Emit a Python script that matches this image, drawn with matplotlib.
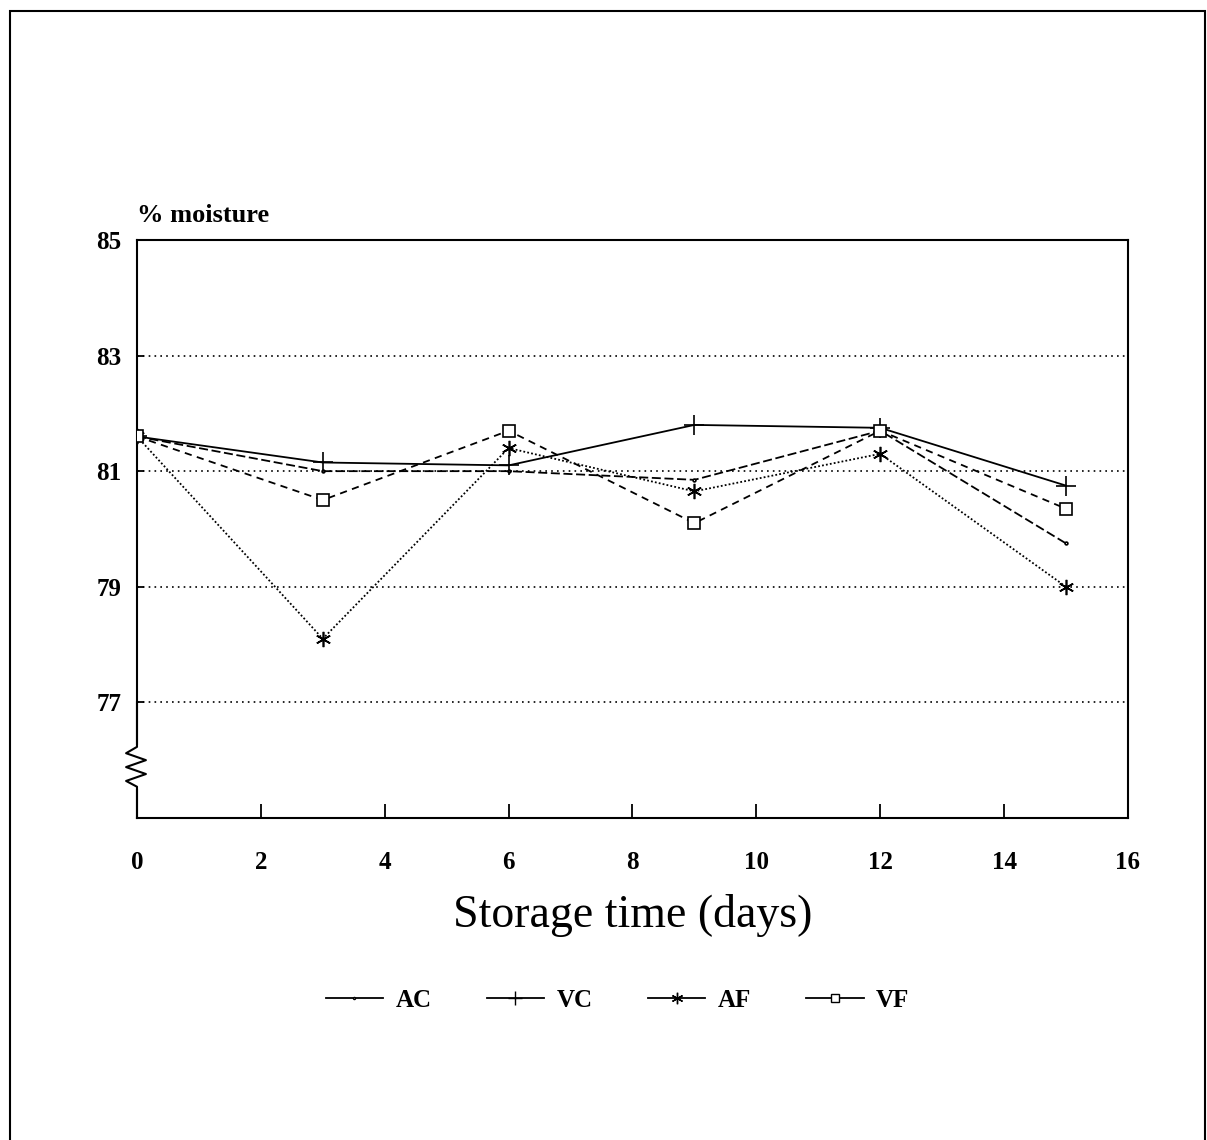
import matplotlib
matplotlib.use('Agg')
import matplotlib.pyplot as plt
from matplotlib.patches import Rectangle
from matplotlib.lines import Line2D

# dados (umidade % ao longo do armazenamento)
dias = [0, 3, 6, 9, 12, 15]
ac = [81.6, 81.0, 81.0, 80.85, 81.7, 79.75]
vc = [81.6, 81.15, 81.1, 81.8, 81.75, 80.75]
af = [81.6, 78.1, 81.4, 80.65, 81.3, 79.0]
vf = [81.6, 80.5, 81.7, 80.1, 81.7, 80.35]

xticks = [0, 2, 4, 6, 8, 10, 12, 14, 16]
yticks = [77, 79, 81, 83, 85]
grade = [77, 79, 81, 83]

fonte = 'Liberation Serif'

fig = plt.figure(figsize=(12.07, 11.4), dpi=100)
fig.patches.append(Rectangle((0.008, -0.01), 0.99, 1.0, transform=fig.transFigure,
                             fill=False, edgecolor='black', linewidth=1.5))

ax = fig.add_axes([0.1135, 0.2825, 0.821, 0.507])

for g in grade:
    ax.axhline(g, color='black', linestyle=(0, (1, 2.5)), linewidth=1.2, zorder=1)

# estilo de cada serie: (valores, nome, linha, marcador, tamanho)
series = [
    (ac, 'AC', (0, (5, 2)), '.', 4),
    (vc, 'VC', '-', '+', 14),
    (af, 'AF', (0, (1, 1.2)), (6, 2, 0), 11),
    (vf, 'VF', (0, (4, 3)), 's', 8),
]

alcas = []
for valores, nome, estilo, marc, tam in series:
    ax.plot(dias, valores, color='black', linestyle=estilo, linewidth=1.3,
            marker=marc, markersize=tam, markerfacecolor='white', markeredgecolor='black',
            markeredgewidth=1.2, zorder=3)
    alcas.append(Line2D([], [], color='black', linestyle='-', linewidth=1.3,
                        marker=marc, markersize=tam * 0.75, markerfacecolor='white',
                        markeredgecolor='black', markeredgewidth=1.0, label=nome))

ax.set_xlim(0, 16)
ax.set_ylim(75, 85)
ax.set_xticks(xticks)
ax.set_yticks(yticks)
ax.set_xticklabels([str(t) for t in xticks], fontfamily=fonte, fontweight='bold', fontsize=18)
ax.set_yticklabels([str(t) for t in yticks], fontfamily=fonte, fontweight='bold', fontsize=18)
ax.tick_params(axis='x', direction='in', length=10, width=1.3, pad=24, top=False)
ax.tick_params(axis='y', direction='in', length=5, width=1.3, pad=11, right=False)
for lado in ax.spines.values():
    lado.set_linewidth(1.5)

# quebra do eixo y (zigue-zague)
zx = [0.0, 0.0, -0.011, 0.009, -0.011, 0.009, -0.011, 0.0, 0.0]
zy = [0.2, 0.123, 0.112, 0.1, 0.088, 0.076, 0.064, 0.054, 0.0]
ax.plot([0.0, 0.0], [0.054, 0.123], color='white', linewidth=3, transform=ax.transAxes,
        clip_on=False, zorder=5)
ax.plot(zx, zy, color='black', linewidth=1.5, transform=ax.transAxes, clip_on=False, zorder=6)

ax.text(0.0, 1.022, '% moisture', transform=ax.transAxes, fontfamily=fonte,
        fontweight='bold', fontsize=19, ha='left', va='bottom')
ax.set_xlabel('Storage time (days)', fontfamily=fonte, fontsize=33, labelpad=14)

ax.legend(handles=alcas, loc='center', bbox_to_anchor=(0.485, -0.315), ncol=4, frameon=False,
          prop={'family': fonte, 'weight': 'bold', 'size': 18}, handlelength=2.3,
          columnspacing=2.2, handletextpad=0.5)

fig.savefig('out.png', dpi=100, facecolor='white')
